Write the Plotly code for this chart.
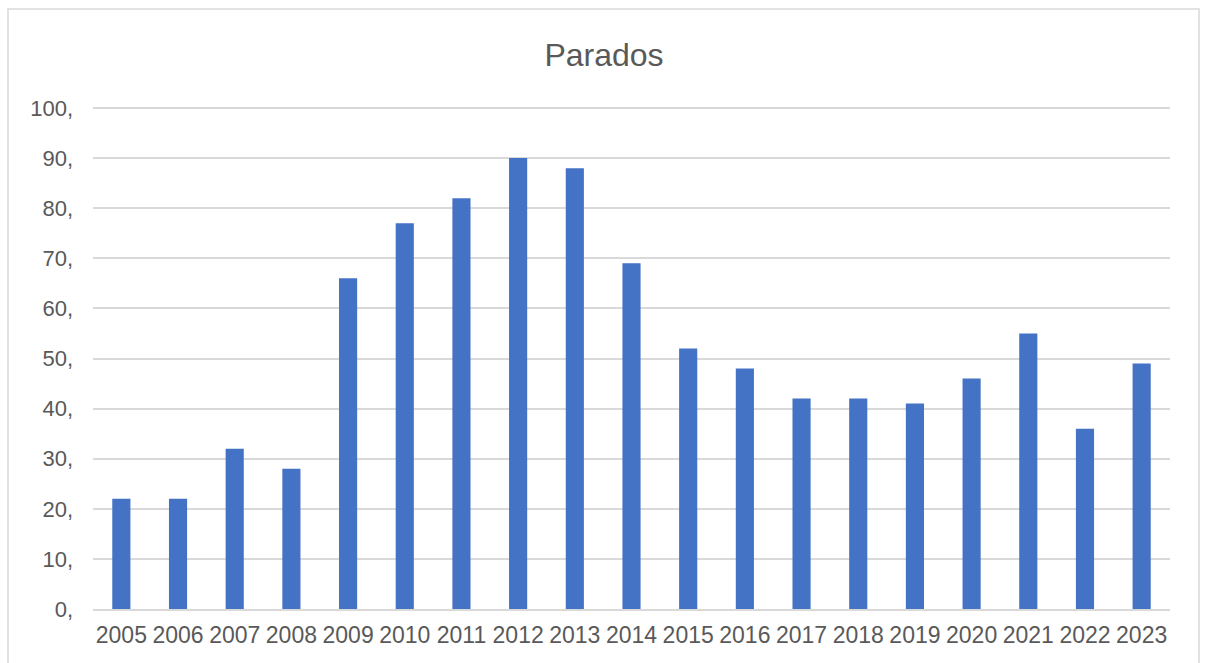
import plotly.graph_objects as go

years = ["2005", "2006", "2007", "2008", "2009", "2010", "2011", "2012", "2013", "2014",
         "2015", "2016", "2017", "2018", "2019", "2020", "2021", "2022", "2023"]
parados = [22, 22, 32, 28, 66, 77, 82, 90, 88, 69, 52, 48, 42, 42, 41, 46, 55, 36, 49]
tick_vals = [0, 10, 20, 30, 40, 50, 60, 70, 80, 90, 100]
tick_text = ["0,", "10,", "20,", "30,", "40,", "50,", "60,", "70,", "80,", "90,", "100,"]

W, H = 1205, 663
ml, mr, mt, mb = 93, 35, 103, 54
pw, ph = W - ml - mr, H - mt - mb
y_top = 101

fig = go.Figure(go.Bar(x=years, y=parados, marker=dict(color="#4472C4", line=dict(width=0)), width=0.32))

def px_x(p):
    return (p - ml) / pw

def px_y(p):
    return (H - mb - p) / ph

fig.update_layout(
    width=W, height=H,
    margin=dict(l=ml, r=mr, t=mt, b=mb),
    paper_bgcolor="white", plot_bgcolor="white",
    font=dict(family="Liberation Sans, Arial, sans-serif", color="#595959", size=23),
    title=dict(text="Parados", x=604 / W, xref="container", y=1 - 55 / H, yref="container",
               xanchor="center", yanchor="middle",
               font=dict(size=32, color="#595959")),
    showlegend=False,
    shapes=[dict(type="rect", xref="paper", yref="paper",
                 x0=px_x(8), x1=px_x(1199), y0=px_y(H + 20), y1=px_y(9),
                 line=dict(color="#D9D9D9", width=1.5), layer="below")],
)
fig.update_xaxes(showgrid=False, showline=True, linecolor="#D9D9D9", linewidth=1.5,
                 ticks="", ticklabelstandoff=5, tickfont=dict(size=23, color="#595959"))
fig.update_yaxes(range=[0, y_top], tickvals=tick_vals, ticktext=tick_text,
                 showgrid=True, gridcolor="#D9D9D9", gridwidth=1.5,
                 zeroline=False, showline=False, ticks="",
                 ticklabelstandoff=19, tickfont=dict(size=22, color="#595959"))

fig.write_html("out.html")
